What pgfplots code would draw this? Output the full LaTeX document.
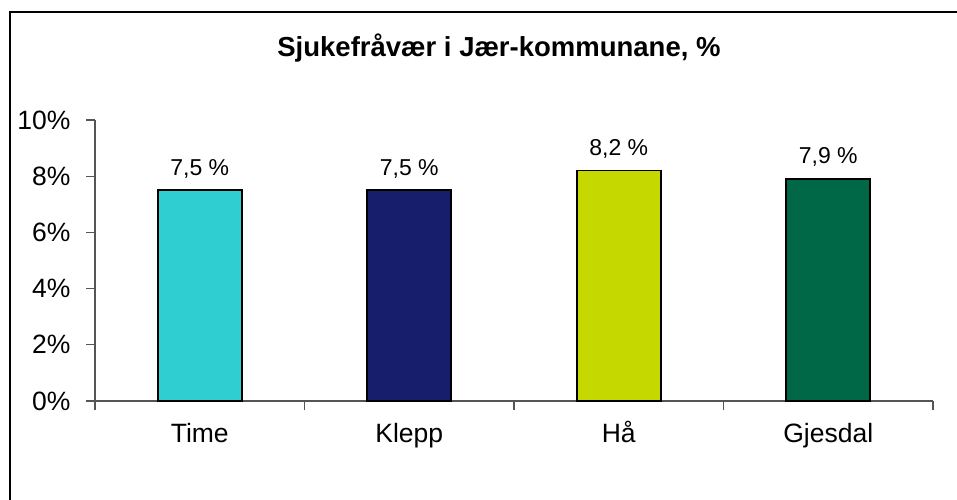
\documentclass[border=0pt]{standalone}
\usepackage{pgfplots}
\pgfplotsset{compat=1.18}
\usepackage{fontspec}
\setmainfont{Liberation Sans}
\definecolor{ctime}{HTML}{2ECED1}
\definecolor{cklepp}{HTML}{171E6B}
\definecolor{cha}{HTML}{C5D800}
\definecolor{cgjes}{HTML}{006847}
\definecolor{axisgrey}{HTML}{555555}
\begin{document}
\begin{tikzpicture}[x=1pt,y=1pt]
\useasboundingbox (0,0) rectangle (957,499);
\draw[line width=1.5pt,black] (10,-5) -- (10,487) -- (962,487);
\node[font=\bfseries\fontsize{27.5}{32}\selectfont] at (499,451) {Sjukefråvær i Jær-kommunane, \%};
\begin{axis}[
  at={(95pt,98pt)}, anchor=south west,
  scale only axis, width=838pt, height=281pt,
  xmin=-0.5, xmax=3.5, ymin=0, ymax=10,
  axis lines=left, axis line style={-, draw=axisgrey, line width=1.2pt},
  xtick={-0.5,0.5,1.5,2.5,3.5},
  xticklabels={Time,Klepp,Hå,Gjesdal},
  x tick label as interval,
  ytick={0,2,4,6,8,10},
  yticklabel={\pgfmathprintnumber{\tick}\%},
  tick align=outside, major tick length=9pt,
  tick style={draw=axisgrey, line width=1.2pt},
  /pgf/number format/assume math mode=true,
  ticklabel style={font=\fontsize{26.5}{30}\selectfont, color=black},
  xticklabel style={text height=20pt, text depth=6pt, yshift=-9pt},
  yticklabel style={xshift=-12pt},
  ybar, bar width=84pt, bar shift=0pt,
  every axis plot/.append style={draw=black, line width=1.6pt},
  nodes near coords={\pgfmathprintnumber[fixed,fixed zerofill,precision=1,use comma]{\pgfplotspointmeta}~\%},
  nodes near coords style={font=\fontsize{23}{26}\selectfont, color=black, anchor=south, yshift=8pt},
  clip=false,
]
\addplot[fill=ctime] coordinates {(0,7.5)};
\addplot[fill=cklepp] coordinates {(1,7.5)};
\addplot[fill=cha] coordinates {(2,8.2)};
\addplot[fill=cgjes] coordinates {(3,7.9)};
\end{axis}
\end{tikzpicture}
\end{document}
